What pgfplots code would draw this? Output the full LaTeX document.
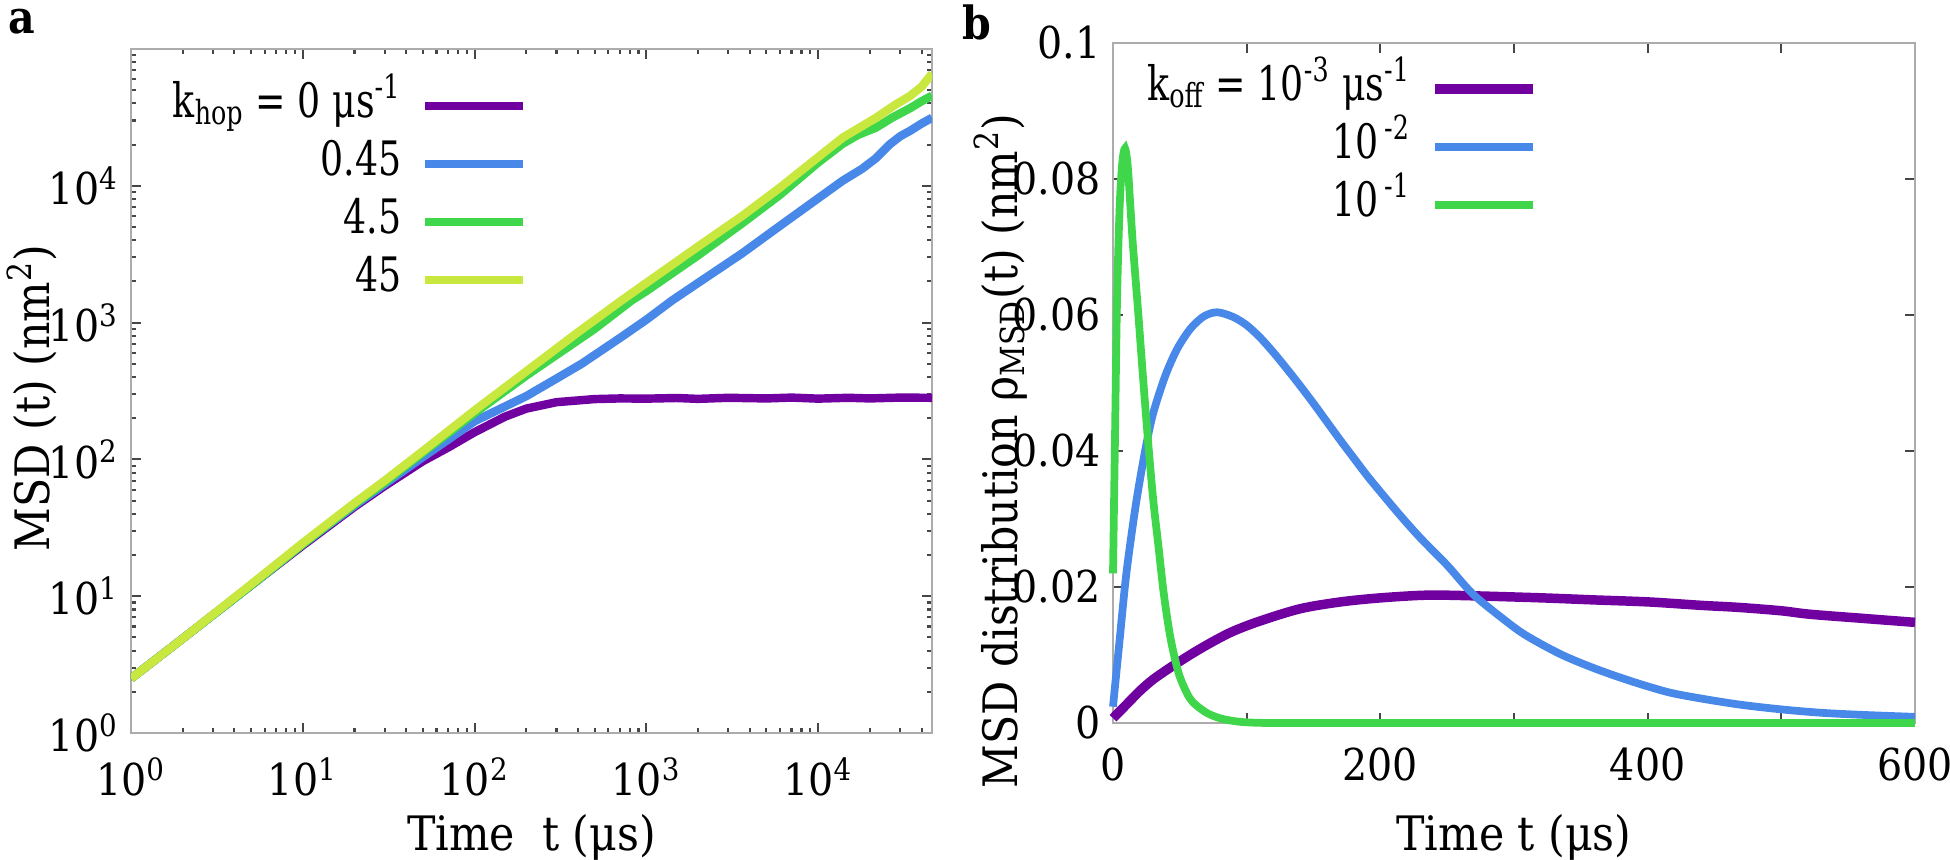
\documentclass[border=0pt]{standalone}
\usepackage{fontspec}
\setmainfont{DejaVu Serif Condensed}
\newfontfamily\legfont{DejaVu Serif Condensed}[FakeStretch=0.85]
\usepackage{pgfplots}
\pgfplotsset{compat=1.18}

\definecolor{cpurple}{RGB}{112,0,160}
\definecolor{cblue}{RGB}{72,136,232}
\definecolor{cgreen}{RGB}{64,214,76}
\definecolor{cyellow}{RGB}{200,232,64}

\pgfplotsset{
  panel/.style={
    scale only axis,
    anchor=south west,
    axis line style={gray!65, line width=0.8pt},
    tick style={gray!55!black, line width=0.6pt},
    major tick length=0.1cm,
    minor tick length=0.05cm,
    tick label style={font=\fontsize{12.5}{13}\selectfont},
    xticklabel style={yshift=-1.2mm},
    label style={font=\fontsize{13.5}{14}\selectfont},
    legend style={draw=none, fill=none, inner sep=0pt,
      font=\legfont\fontsize{13.5}{14}\selectfont, row sep=0pt, column sep=2mm,
      nodes={inner sep=0pt, text height=4mm, text depth=1.8mm}},
    legend cell align=right,
    legend plot pos=right,
    legend image code/.code={\draw[##1, line cap=butt] (0cm,0cm) -- (0.98cm,0cm);},
  },
}

\begin{document}
\begin{tikzpicture}
\useasboundingbox (0,0) rectangle (19.5,8.6);

% (a) MSD vs time, log-log
\begin{axis}[panel,
  at={(1.31cm,1.27cm)}, width=8.01cm, height=6.84cm,
  xmode=log, ymode=log,
  xmin=1, xmax=4.6e4, ymin=1, ymax=1e5,
  xtick={1,10,100,1000,10000},
  xticklabels={10\textsuperscript{0},10\textsuperscript{1},10\textsuperscript{2},10\textsuperscript{3},10\textsuperscript{4}},
  ytick={1,10,100,1000,10000},
  yticklabels={10\textsuperscript{0},10\textsuperscript{1},10\textsuperscript{2},10\textsuperscript{3},10\textsuperscript{4}},
  minor xtick={2,3,4,5,6,7,8,9,20,30,40,50,60,70,80,90,200,300,400,500,600,700,800,900,2000,3000,4000,5000,6000,7000,8000,9000,20000,30000,40000},
  minor ytick={2,3,4,5,6,7,8,9,20,30,40,50,60,70,80,90,200,300,400,500,600,700,800,900,2000,3000,4000,5000,6000,7000,8000,9000,20000,30000,40000,50000,60000,70000,80000,90000},
  xlabel={Time\ \ t (μs)},
  ylabel={MSD (t) (nm\textsuperscript{2})},
  xlabel style={at={(axis description cs:0.5,-0.152)}, anchor=center},
  ylabel style={at={(axis description cs:-0.124,0.49)}, anchor=center},
  legend style={at={(0.496,0.960)}, anchor=north east},
]
\addplot[cpurple, line width=2.4pt] coordinates {
  (1,2.5) (2,4.9) (3,7.3) (5,12) (10,23.5) (20,45) (30,64) (50,97) (70,122)
  (100,158) (150,205) (200,235) (300,262) (500,276) (700,279) (1000,278)
  (1500,281) (2000,277) (3000,282) (5000,279) (7000,283) (10000,278)
  (15000,282) (20000,279) (30000,283) (46000,282)
};
\addlegendentry{k\textsubscript{hop} = 0 μs\textsuperscript{-1}}
\addplot[cblue, line width=2.4pt] coordinates {
  (1,2.5) (2,4.9) (5,12) (10,24) (20,46) (30,66) (50,104) (100,190) (200,290)
  (300,390) (420,500) (700,770) (1000,1050) (1410,1450) (2000,1950) (3600,3200)
  (6000,5100) (10000,8100) (13900,10900) (18000,13300) (21700,15900)
  (26000,20000) (30000,23000) (34400,25300) (40000,28500) (46000,31400)
};
\addlegendentry{0.45}
\addplot[cgreen, line width=2.4pt] coordinates {
  (1,2.5) (2,4.9) (5,12) (10,24) (20,47) (30,68) (50,112) (100,218) (200,410)
  (500,900) (820,1450) (1000,1700) (2000,3100) (3600,5300) (6000,8600)
  (10000,14800) (13900,20300) (17000,23500) (21700,26600) (27000,31500)
  (34400,37000) (40000,41500) (46000,45500)
};
\addlegendentry{4.5}
\addplot[cyellow, line width=2.4pt] coordinates {
  (1,2.5) (2,4.9) (5,12.2) (10,24.5) (20,48) (30,70) (50,115) (100,228) (200,440)
  (400,850) (700,1420) (1000,1950) (2000,3600) (3600,6000) (6000,9700)
  (10000,16200) (13900,22500) (21700,31400) (28000,39000) (34400,45500)
  (40000,53000) (46000,66000)
};
\addlegendentry{45}
\end{axis}

% (b) MSD distribution
\begin{axis}[panel,
  at={(11.13cm,1.37cm)}, width=8.02cm, height=6.80cm,
  xmin=0, xmax=600, ymin=0, ymax=0.1,
  xtick={0,100,200,300,400,500,600},
  xticklabels={0,,200,,400,,600},
  ytick={0,0.02,0.04,0.06,0.08,0.1},
  yticklabels={0,0.02,0.04,0.06,0.08,0.1},
  clip=false,
  xlabel={Time t (μs)},
  ylabel={MSD distribution ρ\textsubscript{MSD}(t) (nm\textsuperscript{2})},
  xlabel style={at={(axis description cs:0.5,-0.168)}, anchor=center},
  ylabel style={at={(axis description cs:-0.14,0.40)}, anchor=center},
  legend style={at={(0.531,0.976)}, anchor=north east},
]
\addplot[cpurple, line width=2.7pt, smooth] coordinates {
  (0,0.0007) (10,0.0027) (20,0.0047) (30,0.0064) (44,0.0083) (60,0.0103)
  (75,0.012) (90,0.0135) (110,0.0150) (140,0.0168) (170,0.0178) (200,0.0184)
  (235,0.0188) (270,0.0187) (321,0.0184) (360,0.0181) (401,0.0178)
  (440,0.0173) (468,0.0170) (500,0.0165) (521,0.0160) (560,0.0154) (600,0.0148)
};
\addlegendentry{k\textsubscript{off} = 10\textsuperscript{-3} μs\textsuperscript{-1}}
\addplot[cblue, line width=2.2pt, smooth] coordinates {
  (0,0.0024) (5,0.0123) (10,0.022) (17,0.032) (24,0.040) (30,0.0455) (39,0.051)
  (48,0.055) (58,0.058) (68,0.0598) (78,0.0604) (90,0.0597) (100,0.0585)
  (110,0.0567) (120,0.0545) (130,0.0521) (140,0.0496) (150,0.0470)
  (160,0.0443) (170,0.0416) (180,0.0390) (190,0.0364) (200,0.0340)
  (215,0.0305) (230,0.0272) (250,0.0232) (269,0.0190) (290,0.0156)
  (308,0.0130) (335,0.0101) (362,0.0079) (390,0.0060) (416,0.0045)
  (440,0.0036) (469,0.0027) (500,0.0020) (530,0.0015) (560,0.0012) (600,0.0009)
};
\addlegendentry{10\textsuperscript{\,-2}}
\addplot[cgreen, line width=2.2pt, smooth, tension=0.5] coordinates {
  (0,0.022) (1.5,0.042) (3,0.062) (5,0.076) (7,0.0825) (9,0.0845) (11,0.082)
  (13,0.076) (15,0.070) (19,0.060) (22,0.052) (26,0.042) (30,0.033)
  (34,0.026) (38,0.019) (43,0.0125) (49,0.0074) (55,0.0045) (60,0.0030)
  (70,0.0015) (80,0.0007) (90,0.0003) (100,0.0001) (120,0) (200,0) (300,0)
  (400,0) (500,0) (600,0)
};
\addlegendentry{10\textsuperscript{\,-1}}
\end{axis}

\node[font=\bfseries\fontsize{13}{13}\selectfont] at (0.22,8.38) {a};
\node[font=\bfseries\fontsize{13}{13}\selectfont] at (9.77,8.38) {b};
\end{tikzpicture}
\end{document}
